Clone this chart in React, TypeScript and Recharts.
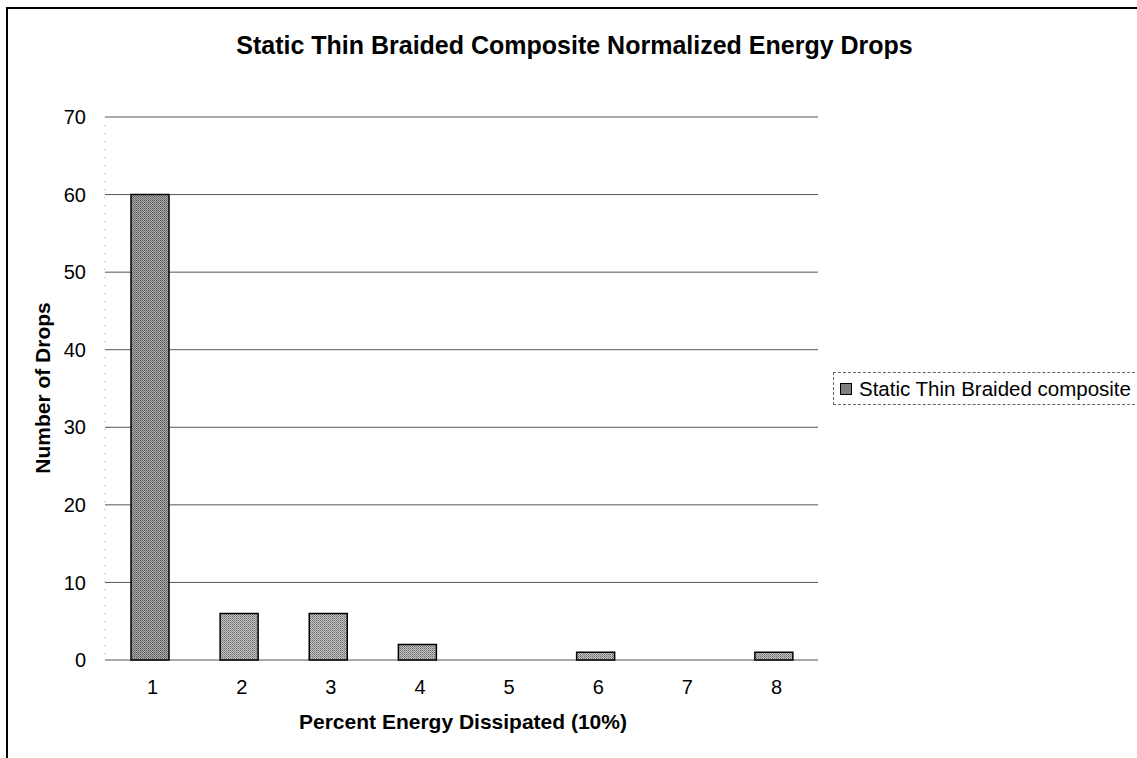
import React from "react";
import { BarChart, Bar, Cell, XAxis, YAxis, CartesianGrid } from "recharts";

const categories = ["1", "2", "3", "4", "5", "6", "7", "8"];
const drops = [60, 6, 6, 2, 0, 1, 0, 1];
const yTicks = [0, 10, 20, 30, 40, 50, 60, 70];

const data = categories.map((c, i) => ({ name: c, drops: drops[i] }));

const FONT = "'Liberation Sans', Arial, sans-serif";

export default function App() {
	return (
		<div
			style={{
				position: "absolute",
				left: 0,
				top: 0,
				width: 1137,
				height: 758,
				overflow: "hidden",
				background: "#fff",
				fontFamily: FONT,
			}}
		>
			{/* chart frame, right and bottom edges fall outside the page */}
			<div
				style={{
					position: "absolute",
					left: 6,
					top: 7,
					width: 1150,
					height: 770,
					border: "2px solid #000",
				}}
			/>
			<div
				style={{
					position: "absolute",
					left: 0,
					top: 31,
					width: 1137,
					textAlign: "center",
					fontWeight: "bold",
					fontSize: 25,
					paddingLeft: 6,
				}}
			>
				Static Thin Braided Composite Normalized Energy Drops
			</div>
			<div
				style={{
					position: "absolute",
					left: 43,
					top: 388,
					transform: "translate(-50%, -50%) rotate(-90deg)",
					whiteSpace: "nowrap",
					fontWeight: "bold",
					fontSize: 21,
				}}
			>
				Number of Drops
			</div>
			<div
				style={{
					position: "absolute",
					left: 73,
					width: 780,
					top: 710,
					textAlign: "center",
					fontWeight: "bold",
					fontSize: 21,
				}}
			>
				Percent Energy Dissipated (10%)
			</div>
			{/* legend */}
			<div
				style={{
					position: "absolute",
					left: 833,
					top: 372,
					width: 320,
					height: 31,
					border: "1px dashed #666",
					display: "flex",
					alignItems: "center",
					fontSize: 20.5,
				}}
			>
				<span
					style={{
						display: "inline-block",
						width: 10,
						height: 10,
						marginLeft: 6,
						marginRight: 7,
						border: "1px solid #000",
						background: "#808080",
					}}
				/>
				Static Thin Braided composite
			</div>
			<BarChart
				width={1137}
				height={758}
				data={data}
				margin={{ top: 117, right: 319, bottom: 0, left: 0 }}
				style={{ position: "absolute", left: 0, top: 0 }}
			>
				<defs>
					<pattern id="dither" width="2" height="2" patternUnits="userSpaceOnUse">
						<rect width="2" height="2" fill="#c4c4c4" />
						<rect width="1" height="1" fill="#6a6a6a" />
						<rect x="1" y="1" width="1" height="1" fill="#8a8a8a" />
					</pattern>
					<pattern id="ditherDark" width="2" height="2" patternUnits="userSpaceOnUse">
						<rect width="2" height="2" fill="#b0b0b0" />
						<rect width="1" height="1" fill="#555" />
						<rect x="1" y="1" width="1" height="1" fill="#707070" />
					</pattern>
				</defs>
				<CartesianGrid vertical={false} stroke="#555" />
				<XAxis
					dataKey="name"
					height={98}
					axisLine={false}
					tickLine={false}
					tickMargin={14}
					tick={{ fill: "#000", fontSize: 20, fontFamily: FONT, dx: 3 }}
				/>
				<YAxis
					width={105}
					domain={[0, 70]}
					ticks={yTicks}
					interval={0}
					axisLine={{ stroke: "#aaa", strokeDasharray: "1 7" }}
					tickLine={false}
					tickMargin={13}
					tick={{ fill: "#000", fontSize: 20, fontFamily: FONT }}
				/>
				<Bar
					dataKey="drops"
					barSize={38}
					stroke="#000"
					strokeWidth={1.5}
					isAnimationActive={false}
				>
					{data.map((d, i) => (
						<Cell key={`bar-${i}`} fill={i === 0 ? "url(#ditherDark)" : "url(#dither)"} />
					))}
				</Bar>
			</BarChart>
		</div>
	);
}
